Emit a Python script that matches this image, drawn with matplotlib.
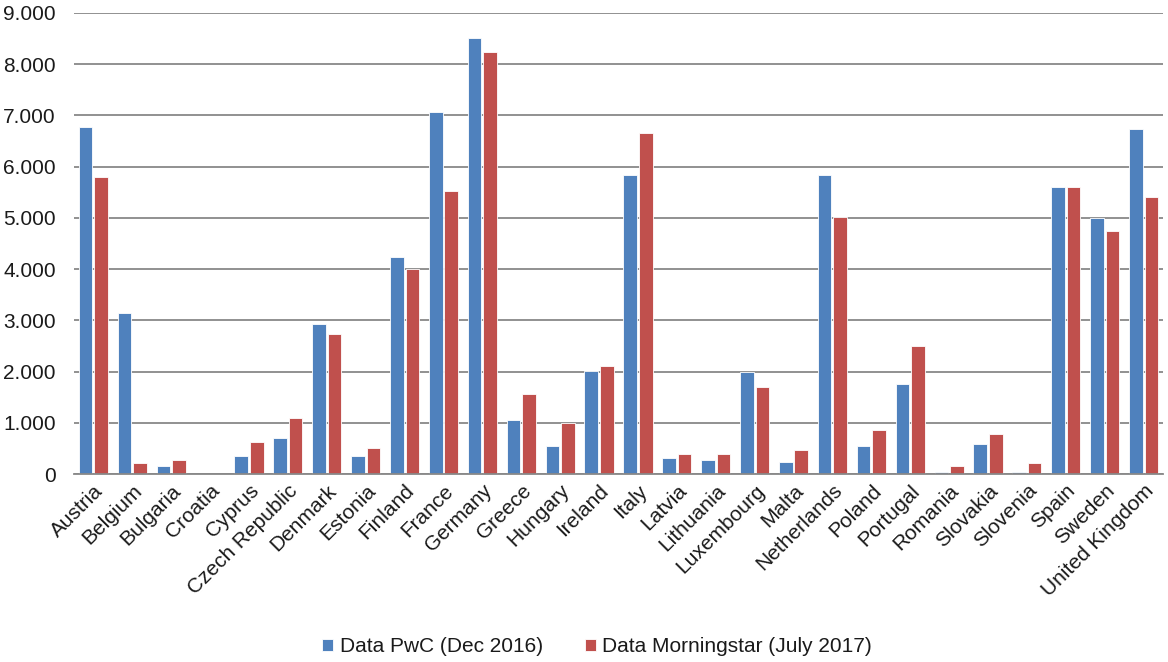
import matplotlib
matplotlib.use("Agg")
import matplotlib.pyplot as plt
import numpy as np
from matplotlib.ticker import FuncFormatter

countries = ["Austria", "Belgium", "Bulgaria", "Croatia", "Cyprus", "Czech Republic",
             "Denmark", "Estonia", "Finland", "France", "Germany", "Greece", "Hungary",
             "Ireland", "Italy", "Latvia", "Lithuania", "Luxembourg", "Malta",
             "Netherlands", "Poland", "Portugal", "Romania", "Slovakia", "Slovenia",
             "Spain", "Sweden", "United Kingdom"]
pwc = [6770, 3150, 160, 0, 360, 710, 2930, 360, 4240, 7070, 8520, 1050, 550,
       2010, 5840, 320, 270, 2000, 240, 5840, 550, 1750, 40, 590, 40, 5600, 4990, 6730]
morningstar = [5790, 210, 270, 0, 630, 1100, 2730, 510, 4000, 5520, 8240, 1560, 990,
               2100, 6650, 400, 400, 1690, 470, 5010, 860, 2490, 160, 780, 210, 5600, 4750, 5400]
series_names = ["Data PwC (Dec 2016)", "Data Morningstar (July 2017)"]
yticks = [0, 1000, 2000, 3000, 4000, 5000, 6000, 7000, 8000, 9000]

plt.rcParams['font.family'] = ['Liberation Sans', 'DejaVu Sans']

fig = plt.figure(figsize=(11.68, 6.62), dpi=100)
ax = fig.add_axes([74/1168, 1-474/662, (1163-74)/1168, (474-13)/662])

x = np.arange(len(countries))
w = 0.35
ax.bar(x - 0.2, pwc, width=w, color="#4F81BD", edgecolor="white", linewidth=0.6,
       label=series_names[0], zorder=3)
ax.bar(x + 0.2, morningstar, width=w, color="#C0504D", edgecolor="white", linewidth=0.6,
       label=series_names[1], zorder=3)

ax.set_xlim(-0.5, len(countries) - 0.5)
ax.set_ylim(0, 9000)
ax.set_yticks(yticks)
ax.yaxis.set_major_formatter(FuncFormatter(lambda v, p: f"{int(v):,}".replace(",", ".")))
ax.grid(axis="y", color="#888888", linewidth=1.3, zorder=0)
for s in ["top", "right", "left"]:
    ax.spines[s].set_visible(False)
ax.spines["bottom"].set_color("#888888")
ax.spines["bottom"].set_linewidth(1.3)
ax.spines["bottom"].set_zorder(4)

ax.set_xticks(x)
ax.set_xticklabels(countries, rotation=45, ha="right", rotation_mode="anchor", fontsize=15,
                   color="#1a1a1a")
ax.tick_params(axis="x", length=0, pad=5)
ax.tick_params(axis="y", length=0, pad=13, labelsize=15, labelcolor="#1a1a1a")

fig.legend(loc="center", bbox_to_anchor=(597/1168, 1-647/662), ncol=2, frameon=False,
           fontsize=15, handlelength=0.55, handleheight=0.55, handletextpad=0.3,
           columnspacing=2.0, borderpad=0, labelcolor="#1a1a1a")

fig.savefig("out.png", dpi=100)
